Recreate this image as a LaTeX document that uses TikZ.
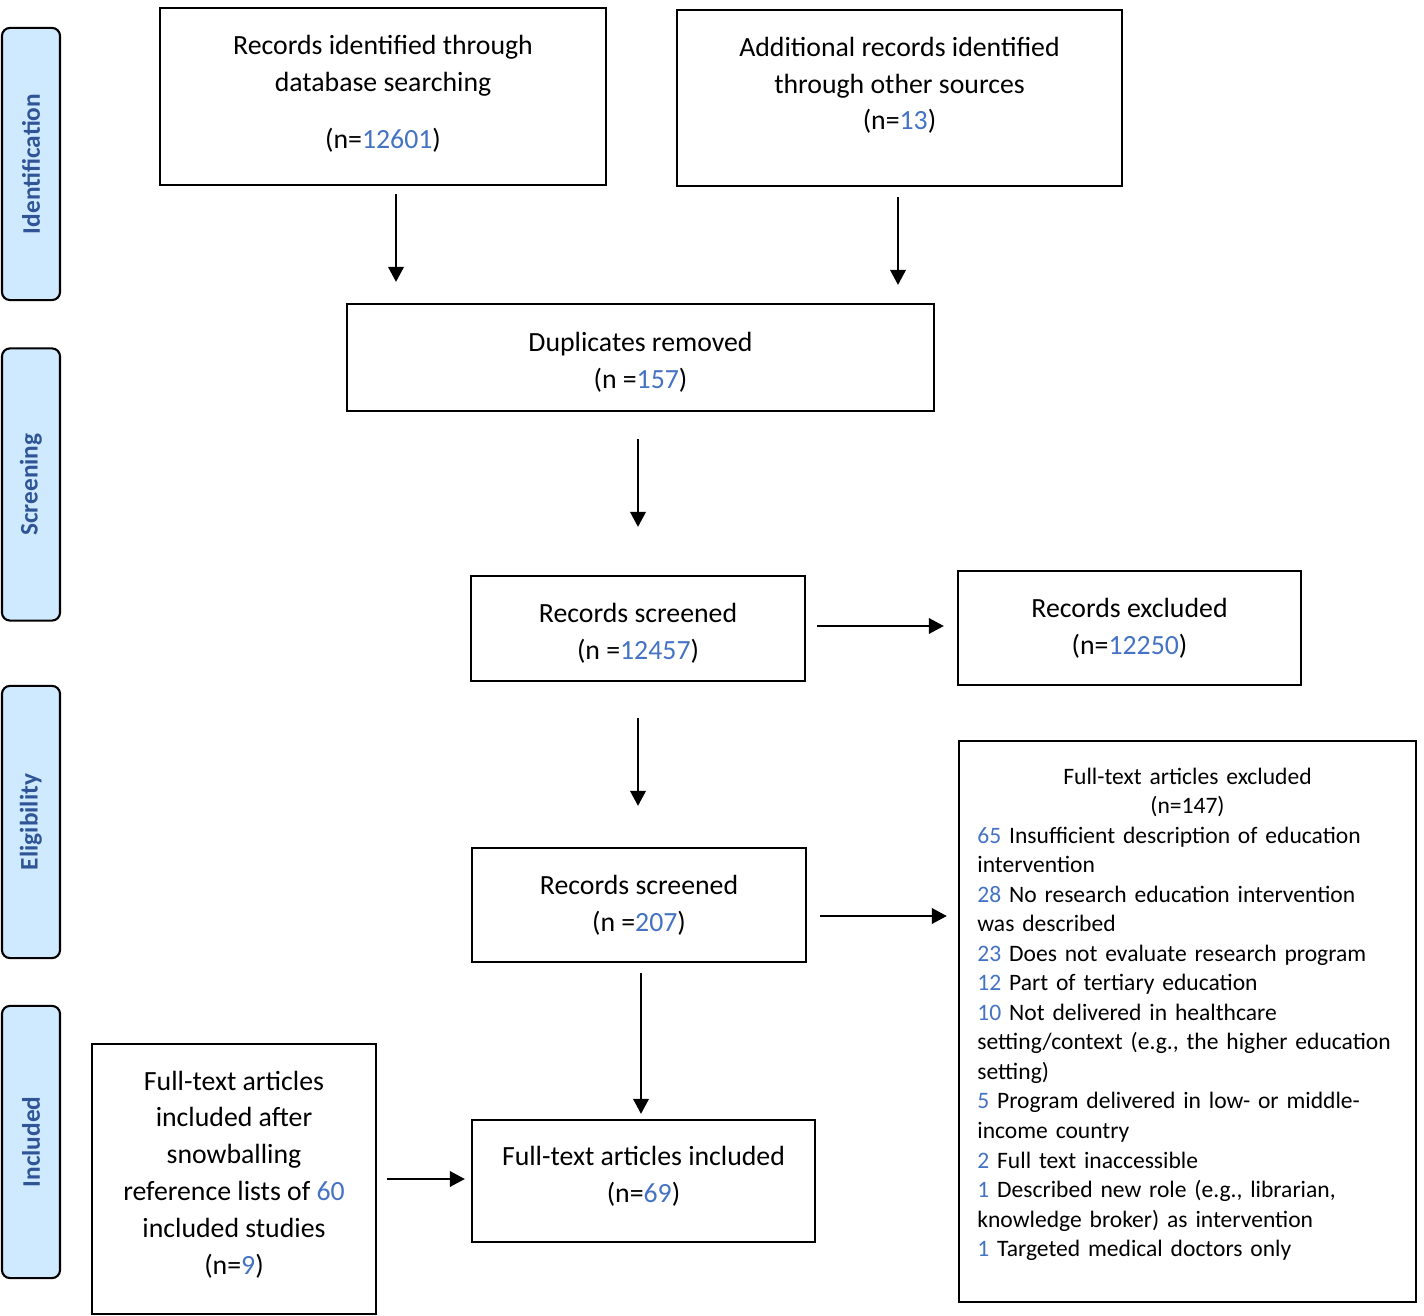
\documentclass[tikz,border=0pt]{standalone}
\usepackage{fontspec}
\setmainfont{Carlito}
\usepackage{xcolor}
\usetikzlibrary{arrows.meta}

\definecolor{numblue}{RGB}{68,114,196}
\definecolor{sideblue}{RGB}{47,85,151}
\definecolor{sidefill}{RGB}{207,234,255}
\newcommand{\nb}[1]{\textcolor{numblue}{#1}}
\newcommand{\lift}[1]{\rule[-#1]{0pt}{0pt}}
\newcommand{\drop}[1]{\rule{0pt}{#1}}

\tikzset{
  box/.style={draw, line width=0.6pt, align=center, inner sep=2pt, font=\fontsize{7.9}{10.5}\selectfont},
  side/.style={draw, line width=0.6pt, rounded corners=0.08cm, fill=sidefill, rotate=90,
    minimum width=2.72cm, minimum height=0.58cm, text=sideblue, font=\fontsize{7.2}{8.6}\selectfont\bfseries},
  arr/.style={-{Triangle[length=0.15cm,width=0.155cm]}, line width=0.6pt},
}

\begin{document}
\begin{tikzpicture}[x=0.01cm, y=-0.01cm]
		\useasboundingbox (0,0) rectangle (1424,1316);
		% phase labels
		\node[side] (ident) at (31,164) {Identification};
		\node[side] (screen) at (31,484.5) {Screening};
		\node[side] (elig) at (31,822) {Eligibility};
		\node[side] (incd) at (31,1142) {Included};
		% boxes
		\node[box, minimum width=4.46cm, minimum height=1.77cm] (db) at (383,96.5) {Records identified through\\ database searching\\[5.7pt] (n=\nb{12601})\lift{2.8pt}};
		\node[box, minimum width=4.45cm, minimum height=1.76cm] (other) at (899.5,98) {Additional records identified\\ through other sources\\ (n=\nb{13})\lift{8.3pt}};
		\node[box, minimum width=5.87cm, minimum height=1.07cm] (dup) at (640.5,357.5) {\drop{8pt}Duplicates removed\\ (n =\nb{157})};
		\node[box, minimum width=3.34cm, minimum height=1.05cm] (scr1) at (638,628.5) {\drop{8pt}Records screened\\ (n =\nb{12457})};
		\node[box, minimum width=3.43cm, minimum height=1.14cm] (excl) at (1129.5,628) {Records excluded\\ (n=\nb{12250})};
		\node[box, minimum width=3.34cm, minimum height=1.14cm] (scr2) at (639,905) {Records screened\\ (n =\nb{207})};
		\node[box, minimum width=4.57cm, minimum height=5.61cm, text width=4.2cm, align=left, inner xsep=0.185cm,
		  font=\fontsize{6.7}{8.4}\selectfont] (ftexcl) at (1187.5,1021.5) {\hyphenpenalty=10000
		  \makebox[\linewidth]{Full-text articles excluded}\\
		  \makebox[\linewidth]{(n=147)}\\
		  \nb{65} Insufficient description of education\\
		  intervention\\
		  \nb{28} No research education intervention\\
		  was described\\
		  \nb{23} Does not evaluate research program\\
		  \nb{12} Part of tertiary education\\
		  \nb{10} Not delivered in healthcare\\
		  setting/context (e.g., the higher education\\
		  setting)\\
		  \nb{5} Program delivered in low- or middle-\\
		  income country\\
		  \nb{2} Full text inaccessible\\
		  \nb{1} Described new role (e.g., librarian,\\
		  knowledge broker) as intervention\\
		  \nb{1} Targeted medical doctors only\lift{5.3pt}};
		\node[box, minimum width=2.84cm, minimum height=2.70cm] (snow) at (234,1179) {Full-text articles\\ included after\\ snowballing\\ reference lists of \nb{60}\\ included studies\\ (n=\nb{9})\lift{3.6pt}};
		\node[box, minimum width=3.43cm, minimum height=1.22cm] (incl) at (643.5,1181) {Full-text articles included\\ (n=\nb{69})\lift{3.6pt}};
		% arrows
		\draw[arr, shorten <=0.08cm, shorten >=0.21cm] ([xshift=0.13cm]db.south) -- ([xshift=0.13cm]db.south |- dup.north);
		\draw[arr, shorten <=0.10cm, shorten >=0.18cm] ([xshift=-0.015cm]other.south) -- ([xshift=-0.015cm]other.south |- dup.north);
		\draw[arr, shorten <=0.27cm, shorten >=0.48cm] (scr1.north |- dup.south) -- (scr1.north);
		\draw[arr, shorten <=0.11cm, shorten >=0.13cm] ([yshift=0.025cm]scr1.east) -- ([yshift=0.025cm]scr1.east -| excl.west);
		\draw[arr, shorten <=0.36cm, shorten >=0.41cm] (scr1.south) -- (scr1.south |- scr2.north);
		\draw[arr, shorten <=0.13cm, shorten >=0.11cm] ([yshift=-0.11cm]scr2.east) -- ([yshift=-0.11cm]scr2.east -| ftexcl.west);
		\draw[arr, shorten <=0.10cm, shorten >=0.05cm] ([xshift=0.02cm]scr2.south) -- ([xshift=0.02cm]scr2.south |- incl.north);
		\draw[arr, shorten <=0.10cm, shorten >=0.06cm] (snow.east) -- (snow.east -| incl.west);
\end{tikzpicture}
\end{document}
